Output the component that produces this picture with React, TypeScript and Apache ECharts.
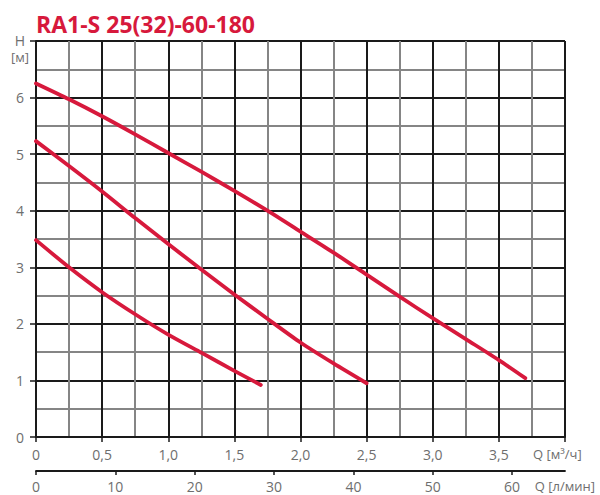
import React, { useEffect, useRef } from "react";
import * as echarts from "echarts";

const curveHigh: [number, number][] = [
  [0, 6.25], [0.25, 5.97], [0.5, 5.67], [0.75, 5.35], [1.0, 5.02], [1.25, 4.69],
  [1.5, 4.35], [1.75, 4.0], [2.0, 3.63], [2.25, 3.26], [2.5, 2.87], [2.75, 2.48],
  [3.0, 2.1], [3.25, 1.73], [3.5, 1.36], [3.7, 1.04],
];
const curveMid: [number, number][] = [
  [0, 5.23], [0.25, 4.79], [0.5, 4.34], [0.75, 3.87], [1.0, 3.41], [1.25, 2.96],
  [1.5, 2.52], [1.75, 2.09], [2.0, 1.67], [2.25, 1.3], [2.5, 0.95],
];
const curveLow: [number, number][] = [
  [0, 3.48], [0.25, 3.0], [0.5, 2.56], [0.75, 2.17], [1.0, 1.81], [1.25, 1.49],
  [1.5, 1.17], [1.7, 0.92],
];
const lpmTicks = [0, 10, 20, 30, 40, 50, 60];
const titleText = "RA1-S 25(32)-60-180";
const yName = ["H", "[м]"];
const xName = "Q [м³/ч]";
const x2Name = "Q [л/мин]";

const RED = "#d7193c";
const DARK = "#1a1a1a";
const LIGHT = "#858585";
const LABEL = "#6e6e6e";
const FONT = "'Open Sans', 'Noto Sans', sans-serif";

export default function App() {
  const ref = useRef<HTMLDivElement>(null);
  useEffect(() => {
    if (!ref.current) return;
    const chart = echarts.init(ref.current, undefined, { renderer: "svg" });
    const lineSeries = (data: [number, number][]) => ({
      type: "line",
      data,
      smooth: 0.25,
      showSymbol: false,
      symbol: "none",
      xAxisIndex: 0,
      yAxisIndex: 0,
      lineStyle: { color: RED, width: 3.8, cap: "round" },
    });
    chart.setOption({
      animation: false,
      grid: { left: 36, right: 35, top: 41, bottom: 58, containLabel: false },
      xAxis: [
        {
          type: "value",
          min: 0,
          max: 4,
          interval: 0.5,
          position: "bottom",
          axisLine: { show: true, onZero: false, lineStyle: { color: DARK, width: 2 } },
          axisTick: { show: true, length: 5, lineStyle: { color: DARK, width: 1.5 } },
          axisLabel: {
            margin: 10,
            color: LABEL,
            fontSize: 14,
            fontFamily: FONT,
            formatter: (v: number) =>
              v >= 4 ? "" : v === 0 ? "0" : v.toFixed(1).replace(".", ","),
          },
          splitLine: { show: true, lineStyle: { color: DARK, width: 2 } },
          minorTick: { show: false, splitNumber: 2 },
          minorSplitLine: { show: true, lineStyle: { color: LIGHT, width: 2 } },
        },
        {
          type: "value",
          min: 0,
          max: 200 / 3,
          interval: 10,
          position: "bottom",
          offset: 34,
          axisLine: { show: true, onZero: false, lineStyle: { color: DARK, width: 1.8 } },
          axisTick: { show: true, length: 4, customValues: lpmTicks, lineStyle: { color: DARK, width: 1.5 } },
          axisLabel: {
            margin: 8,
            color: LABEL,
            fontSize: 14,
            fontFamily: FONT,
            customValues: lpmTicks,
            formatter: (v: number) => String(v),
          },
          splitLine: { show: false },
        },
      ],
      yAxis: {
        type: "value",
        min: 0,
        max: 7,
        interval: 1,
        axisLine: { show: true, onZero: false, lineStyle: { color: DARK, width: 2 } },
        axisTick: { show: true, length: 6, lineStyle: { color: DARK, width: 1.5 } },
        axisLabel: {
          margin: 12,
          color: LABEL,
          fontSize: 14,
          fontFamily: FONT,
          formatter: (v: number) => (v >= 7 ? "" : String(v)),
        },
        splitLine: { show: true, lineStyle: { color: DARK, width: 2 } },
        minorTick: { show: false, splitNumber: 2 },
        minorSplitLine: { show: true, lineStyle: { color: LIGHT, width: 2 } },
      },
      series: [lineSeries(curveHigh), lineSeries(curveMid), lineSeries(curveLow)],
      graphic: [
        {
          type: "text",
          x: 36,
          y: 23.5,
          style: {
            text: titleText,
            fill: RED,
            font: `bold 23px ${FONT}`,
            align: "left",
            verticalAlign: "middle",
          },
        },
        {
          type: "text",
          x: 20,
          y: 40,
          style: { text: yName[0], fill: LABEL, font: `14px ${FONT}`, align: "center", verticalAlign: "middle" },
        },
        {
          type: "text",
          x: 20,
          y: 57,
          style: { text: yName[1], fill: LABEL, font: `13px ${FONT}`, align: "center", verticalAlign: "middle" },
        },
        {
          type: "text",
          x: 533,
          y: 454,
          style: { text: xName, fill: LABEL, font: `13px ${FONT}`, align: "left", verticalAlign: "middle" },
        },
        {
          type: "text",
          x: 595,
          y: 486,
          style: { text: x2Name, fill: LABEL, font: `13px ${FONT}`, align: "right", verticalAlign: "middle" },
        },
      ],
    });
    return () => chart.dispose();
  }, []);
  return (
    <div
      ref={ref}
      style={{ position: "absolute", left: 0, top: 0, width: 600, height: 495 }}
    />
  );
}
